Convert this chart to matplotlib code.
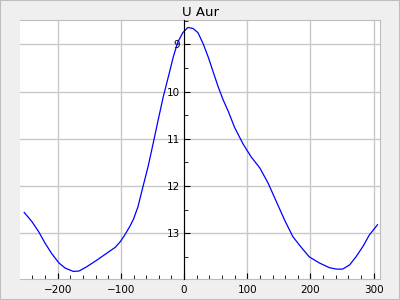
import matplotlib
matplotlib.use('Agg')
import matplotlib.pyplot as plt
from matplotlib.patches import Rectangle
from matplotlib.ticker import MultipleLocator

# light curve of U Aur: days from maximum vs. visual magnitude
days = [-253, -241, -230, -220, -209, -198, -188, -175, -166, -154, -138,
        -122, -109, -101, -94, -86, -80, -73, -65, -57, -49, -41, -33, -25,
        -17, -10, -2, 6, 14, 22, 30, 38, 46, 54, 62, 70, 80, 93, 106, 120,
        133, 146, 159, 172, 183, 198, 214, 230, 241, 251, 262, 272, 283,
        293, 306]
mags = [12.56, 12.75, 12.97, 13.21, 13.44, 13.63, 13.74, 13.81, 13.80,
        13.71, 13.57, 13.42, 13.30, 13.18, 13.04, 12.86, 12.70, 12.44, 12.01,
        11.59, 11.10, 10.60, 10.11, 9.69, 9.26, 8.95, 8.75, 8.64, 8.66, 8.75,
        8.98, 9.26, 9.58, 9.90, 10.18, 10.42, 10.76, 11.10, 11.38, 11.62,
        11.94, 12.33, 12.72, 13.07, 13.26, 13.50, 13.63, 13.73, 13.76, 13.76,
        13.67, 13.50, 13.28, 13.04, 12.82]

title = 'U Aur'

fig = plt.figure(figsize=(4, 3), dpi=100, facecolor='#efefef')
fig.patches.append(Rectangle((0, 0), 1, 1, transform=fig.transFigure,
                             fill=False, edgecolor='#bdbdbd', lw=1.5))
ax = fig.add_axes([0.051, 0.07, 0.899, 0.862])
ax.set_facecolor('white')

ax.plot(days, mags, color='#0000ff', lw=0.9)

ax.set_xlim(-259, 310)
ax.set_ylim(13.97, 8.49)  # magnitudes, brighter up

ax.xaxis.set_major_locator(MultipleLocator(100))
ax.xaxis.set_minor_locator(MultipleLocator(20))
ax.yaxis.set_major_locator(MultipleLocator(1))
ax.yaxis.set_minor_locator(MultipleLocator(0.5))

ax.grid(True, which='major', color='#c8c8c8', lw=1)
ax.set_axisbelow(True)

for s in ['top', 'right', 'bottom']:
    ax.spines[s].set_color('#bdbdbd')
ax.spines['left'].set_position(('data', 0))
ax.spines['left'].set_color('black')
ax.spines['left'].set_zorder(3)

ax.tick_params(axis='x', which='both', direction='in', color='black',
               labelsize=7.5, pad=4)
ax.tick_params(axis='x', which='major', length=4)
ax.tick_params(axis='x', which='minor', length=3)
ax.tick_params(axis='y', which='both', direction='in', color='black',
               labelsize=7.5, pad=3)
ax.tick_params(axis='y', which='major', length=4)
ax.tick_params(axis='y', which='minor', length=3)

ax.set_title(title, fontsize=9.5, pad=3)

fig.savefig('out.png', dpi=100, facecolor=fig.get_facecolor())
